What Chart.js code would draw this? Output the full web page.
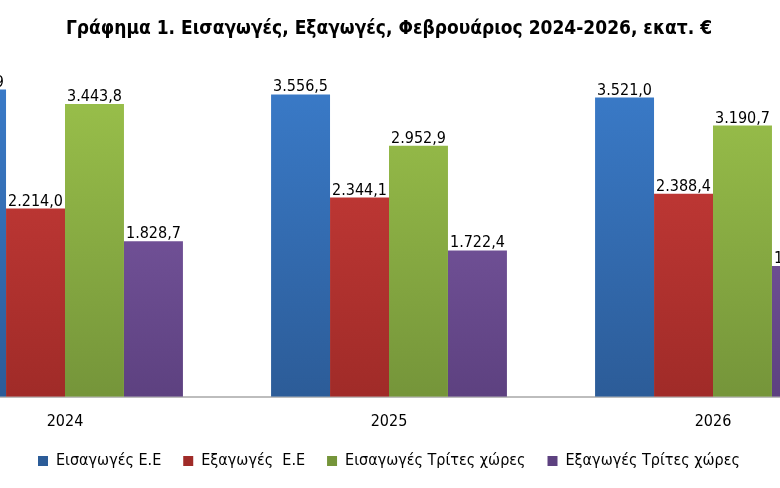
<!DOCTYPE html>
<html lang="el">
<head>
    <meta charset="UTF-8">
    <title>Γράφημα 1</title>
    <style>
        html, body {
            margin: 0;
            padding: 0;
            background: #ffffff;
            overflow: hidden;
            width: 780px;
            height: 488px;
        }
        .wrap {
            position: absolute;
            left: -97px;
            top: 0;
            width: 972px;
            height: 488px;
        }
    </style>
</head>
<body>
    <div class="wrap">
        <canvas id="barChart"></canvas>
    </div>

    <script src="https://cdn.jsdelivr.net/npm/chart.js"></script>
    <script>
        // data
        const years = ['2024', '2025', '2026'];
        const importsEU = [3614.9, 3556.5, 3521.0];
        const exportsEU = [2214.0, 2344.1, 2388.4];
        const importsThird = [3443.8, 2952.9, 3190.7];
        const exportsThird = [1828.7, 1722.4, 1538.0];
        const seriesNames = ['Εισαγωγές Ε.Ε', 'Εξαγωγές  Ε.Ε', 'Εισαγωγές Τρίτες χώρες', 'Εξαγωγές Τρίτες χώρες'];

        const FONT = "'DejaVu Sans Condensed', 'DejaVu Sans', sans-serif";

        // top / bottom colours of each bar gradient
        const shades = [
            ['#3b7dcc', '#2c5c98'],
            ['#cf3e3b', '#a02b28'],
            ['#9dc44c', '#75953a'],
            ['#8561ae', '#5d4180']
        ];

        function fmt(v) {
            const parts = v.toFixed(1).split('.');
            const int = parts[0].replace(/\B(?=(\d{3})+(?!\d))/g, '.');
            return int + ',' + parts[1];
        }

        function gradient(i) {
            return function (c) {
                const area = c.chart.chartArea;
                if (!area) return shades[i][0];
                const g = c.chart.ctx.createLinearGradient(0, area.top, 0, area.bottom);
                g.addColorStop(0, shades[i][0]);
                g.addColorStop(1, shades[i][1]);
                return g;
            };
        }

        // value labels above each bar
        const valueLabels = {
            id: 'valueLabels',
            afterDatasetsDraw(chart) {
                const ctx = chart.ctx;
                ctx.save();
                ctx.font = '16px ' + FONT;
                ctx.fillStyle = '#000';
                ctx.textAlign = 'center';
                ctx.textBaseline = 'alphabetic';
                chart.data.datasets.forEach((ds, i) => {
                    chart.getDatasetMeta(i).data.forEach((bar, j) => {
                        ctx.fillText(fmt(ds.data[j]), bar.x, bar.y - 3);
                    });
                });
                ctx.restore();
            }
        };

        const allSeries = [importsEU, exportsEU, importsThird, exportsThird];

        new Chart(document.getElementById('barChart'), {
            type: 'bar',
            data: {
                labels: years,
                datasets: allSeries.map((d, i) => ({
                    label: seriesNames[i],
                    data: d,
                    backgroundColor: gradient(i),
                    borderWidth: 0,
                    barPercentage: 1,
                    categoryPercentage: 0.728
                }))
            },
            options: {
                responsive: true,
                maintainAspectRatio: false,
                animation: false,
                layout: { padding: { left: 0, right: 0, top: 0, bottom: 9 } },
                scales: {
                    x: {
                        grid: { display: false },
                        border: { display: true, color: '#bdbdbd', width: 2 },
                        ticks: {
                            color: '#000',
                            padding: 7,
                            font: { family: FONT, size: 16 }
                        },
                        afterFit(scale) {
                            scale.height -= 7;
                        }
                    },
                    y: {
                        display: false,
                        min: 0,
                        max: 4000
                    }
                },
                plugins: {
                    title: {
                        display: true,
                        text: 'Γράφημα 1. Εισαγωγές, Εξαγωγές, Φεβρουάριος 2024-2026, εκατ. €',
                        color: '#000',
                        font: { family: FONT, size: 19, weight: 'bold' },
                        padding: { top: 18, bottom: 16 }
                    },
                    legend: {
                        position: 'bottom',
                        labels: {
                            color: '#000',
                            font: { family: FONT, size: 16 },
                            boxWidth: 10,
                            boxHeight: 10,
                            padding: 22,
                            generateLabels(chart) {
                                return seriesNames.map((name, i) => ({
                                    text: name,
                                    fillStyle: shades[i][1],
                                    strokeStyle: shades[i][1],
                                    lineWidth: 0,
                                    datasetIndex: i,
                                    hidden: false
                                }));
                            }
                        }
                    },
                    tooltip: { enabled: false }
                }
            },
            plugins: [valueLabels]
        });
    </script>
</body>
</html>
